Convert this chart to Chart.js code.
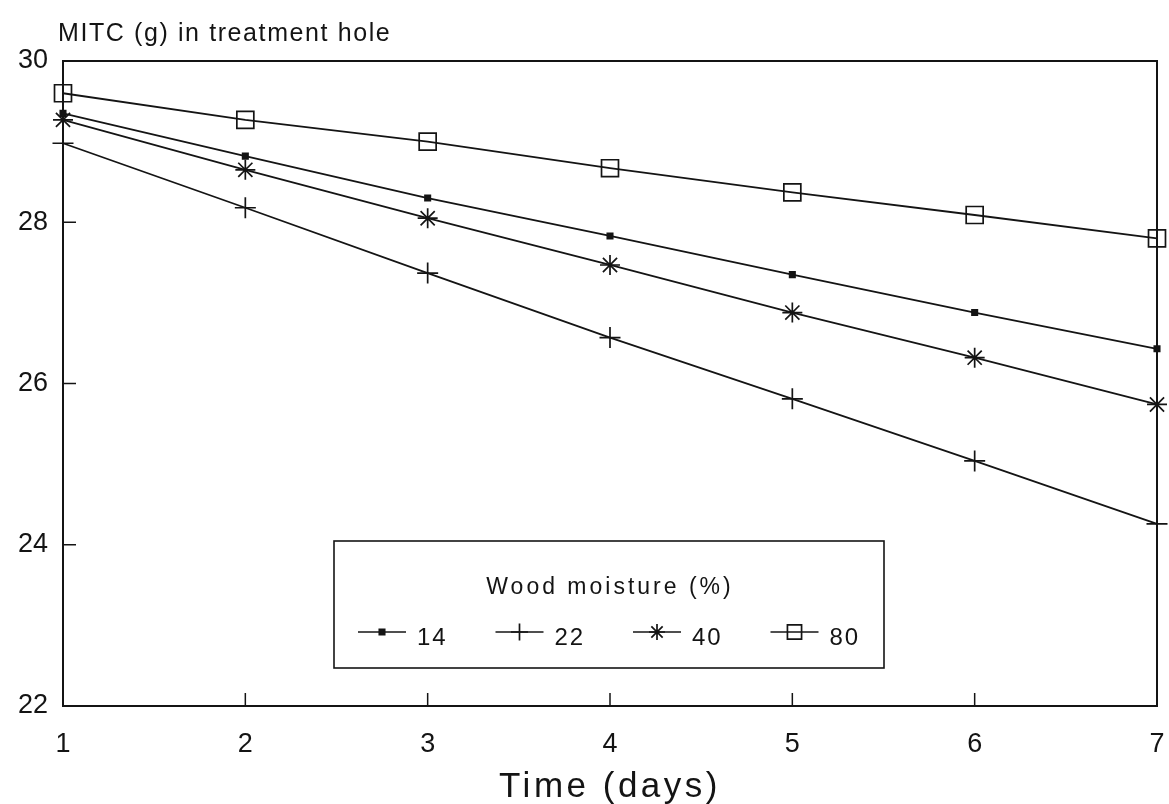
<!DOCTYPE html>
<html>
<head>
<meta charset="utf-8">
<title>MITC in treatment hole</title>
<script src="https://cdn.jsdelivr.net/npm/chart.js@4/dist/chart.umd.min.js"></script>
<style>
  html, body { margin: 0; padding: 0; background: #fff; overflow: hidden; }
  canvas { display: block; }
</style>
</head>
<body>
<canvas id="chart-mitc" width="1169" height="804"></canvas>
<script>
// ─── Data ─────────────────────────────────────────────────────────────────────
const DAYS     = [1, 2, 3, 4, 5, 6, 7];
const MOIST_14 = [29.35, 28.82, 28.30, 27.83, 27.35, 26.88, 26.43];
const MOIST_22 = [28.98, 28.18, 27.37, 26.57, 25.81, 25.04, 24.26];
const MOIST_40 = [29.27, 28.65, 28.05, 27.47, 26.88, 26.32, 25.74];
const MOIST_80 = [29.60, 29.27, 29.00, 28.67, 28.37, 28.09, 27.80];
const Y_TICKS  = [22, 24, 26, 28, 30];
const SERIES_LABELS = ['14', '22', '40', '80'];

const TITLE_Y  = 'MITC (g) in treatment hole';
const TITLE_X  = 'Time (days)';
const LEGEND_TITLE = 'Wood moisture (%)';

const INK  = '#141414';
const FONT = '"Liberation Sans", Arial, sans-serif';

// ─── Markers ──────────────────────────────────────────────────────────────────
const STYLES = [
  { pointStyle: 'rect',  radius: 3.8, fill: true,  legendR: 3.8 },
  { pointStyle: 'cross', radius: 10.5, fill: false, legendR: 8.5 },
  { pointStyle: 'star',  radius: 10,  fill: false, legendR: 8 },
  { pointStyle: 'rect',  radius: 12,  fill: false, legendR: 10 },
];

function drawMark(ctx, st, x, y, r) {
  ctx.save();
  ctx.strokeStyle = INK;
  ctx.fillStyle = INK;
  ctx.lineWidth = 1.7;
  ctx.beginPath();
  if (st.pointStyle === 'rect') {
    const s = r * Math.SQRT1_2;
    ctx.rect(x - s, y - s, 2 * s, 2 * s);
    if (st.fill) ctx.fill();
    ctx.stroke();
  } else {
    ctx.moveTo(x - r, y); ctx.lineTo(x + r, y);
    ctx.moveTo(x, y - r); ctx.lineTo(x, y + r);
    if (st.pointStyle === 'star') {
      const d = r * Math.SQRT1_2;
      ctx.moveTo(x - d, y - d); ctx.lineTo(x + d, y + d);
      ctx.moveTo(x - d, y + d); ctx.lineTo(x + d, y - d);
    }
    ctx.stroke();
  }
  ctx.restore();
}

function text(ctx, str, x, y, size, spacing, align) {
  ctx.save();
  ctx.fillStyle = INK;
  ctx.font = `${size}px ${FONT}`;
  ctx.letterSpacing = spacing + 'px';
  ctx.textAlign = align || 'left';
  ctx.textBaseline = 'alphabetic';
  ctx.fillText(str, x, y);
  ctx.restore();
}

// ─── Frame, inward ticks, titles, legend box ─────────────────────────────────
const framePlugin = {
  id: 'frame',
  afterDraw(chart) {
    const { ctx, chartArea: a, scales } = chart;
    ctx.save();
    ctx.strokeStyle = INK;
    ctx.lineWidth = 2;
    ctx.strokeRect(a.left, a.top, a.right - a.left, a.bottom - a.top);

    // ticks pointing into the plot
    ctx.lineWidth = 1.5;
    ctx.beginPath();
    DAYS.slice(1, -1).forEach(d => {
      const px = scales.x.getPixelForValue(d);
      ctx.moveTo(px, a.bottom); ctx.lineTo(px, a.bottom - 13);
    });
    Y_TICKS.slice(1, -1).forEach(v => {
      const py = scales.y.getPixelForValue(v);
      ctx.moveTo(a.left, py); ctx.lineTo(a.left + 13, py);
    });
    ctx.stroke();
    ctx.restore();

    text(ctx, TITLE_Y, 58, 41, 25, 1.6, 'left');
    text(ctx, TITLE_X, 610, 797, 35, 3.5, 'center');

    // legend
    const box = { left: 334, top: 541, right: 884, bottom: 668 };
    ctx.save();
    ctx.strokeStyle = INK;
    ctx.lineWidth = 1.6;
    ctx.strokeRect(box.left, box.top, box.right - box.left, box.bottom - box.top);
    ctx.restore();
    text(ctx, LEGEND_TITLE, 610, 594, 23, 3, 'center');

    const lineY = 632;
    SERIES_LABELS.forEach((lab, i) => {
      const x0 = 358 + i * 137.5;
      ctx.save();
      ctx.strokeStyle = INK;
      ctx.lineWidth = 1.5;
      ctx.beginPath();
      ctx.moveTo(x0, lineY); ctx.lineTo(x0 + 48, lineY);
      ctx.stroke();
      ctx.restore();
      drawMark(ctx, STYLES[i], x0 + 24, lineY, STYLES[i].legendR);
      text(ctx, lab, x0 + 59, 645, 24, 2, 'left');
    });
  },
};

// custom marker drawing on top of the library's points
const markerPlugin = {
  id: 'markers',
  afterDatasetsDraw(chart) {
    chart.data.datasets.forEach((ds, i) => {
      chart.getDatasetMeta(i).data.forEach(pt => {
        drawMark(chart.ctx, STYLES[i], pt.x, pt.y, STYLES[i].radius);
      });
    });
  },
};

// ─── Chart ────────────────────────────────────────────────────────────────────
const series = [MOIST_14, MOIST_22, MOIST_40, MOIST_80];
const datasets = series.map((vals, i) => ({
  label: SERIES_LABELS[i],
  data: DAYS.map((d, k) => ({ x: d, y: vals[k] })),
  borderColor: INK,
  borderWidth: 1.8,
  pointRadius: 0,
  tension: 0,
  fill: false,
  clip: false,
}));

new Chart(document.getElementById('chart-mitc').getContext('2d'), {
  type: 'line',
  data: { datasets },
  plugins: [markerPlugin, framePlugin],
  options: {
    responsive: false,
    animation: false,
    devicePixelRatio: 1,
    layout: { padding: { top: 61, right: 12, left: 0, bottom: 0 } },
    plugins: { legend: { display: false }, tooltip: { enabled: false } },
    scales: {
      x: {
        type: 'linear',
        min: 1, max: 7,
        afterFit: s => { s.height = 98; s.paddingLeft = 0; s.paddingRight = 0; },
        grid: { display: false, drawTicks: false },
        border: { display: false },
        ticks: {
          stepSize: 1,
          color: INK,
          padding: 22,
          font: { size: 27, family: FONT },
        },
      },
      y: {
        min: 22, max: 30,
        afterFit: s => { s.width = 63; s.paddingTop = 0; s.paddingBottom = 0; },
        grid: { display: false, drawTicks: false },
        border: { display: false },
        ticks: {
          stepSize: 2,
          color: INK,
          padding: 15,
          font: { size: 27, family: FONT },
        },
      },
    },
  },
});
</script>
</body>
</html>
